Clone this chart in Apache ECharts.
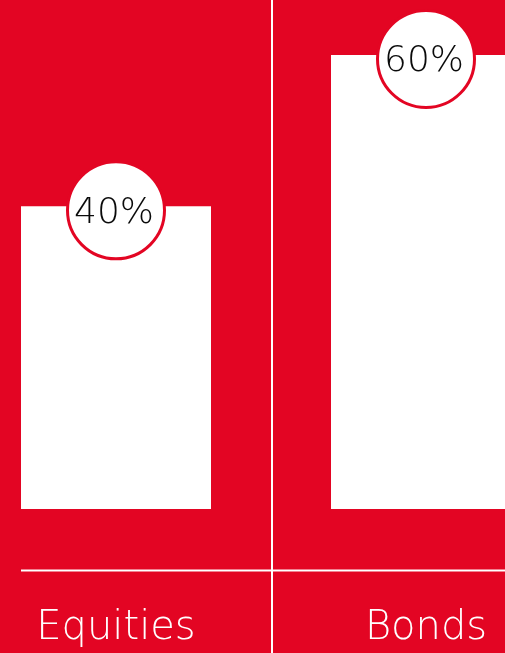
<!DOCTYPE html>
<html>
<head>
<meta charset="utf-8">
<script src="https://cdn.jsdelivr.net/npm/echarts@6/dist/echarts.min.js"></script>
<style>
  html, body { margin: 0; padding: 0; background: #E30523; }
  #chart { width: 505px; height: 653px; }
</style>
</head>
<body>
<div id="chart"></div>
<script>
// Asset allocation split
const categories = ['Equities', 'Bonds'];
const shares = [40, 60];

const RED = '#E30523';
const FONT = '"DejaVu Sans", sans-serif';
const chart = echarts.init(document.getElementById('chart'));

chart.setOption({
  backgroundColor: RED,
  animation: false,
  grid: { left: -39, right: -76, top: 55, bottom: 144, outerBoundsMode: 'none', containLabel: false },
  xAxis: {
    type: 'category',
    data: categories,
    axisLine: { show: false },
    axisTick: { show: false },
    splitLine: { show: false },
    axisLabel: {
      color: '#ffffff',
      fontSize: 40,
      fontFamily: FONT,
      fontWeight: 200,
      margin: 100
    }
  },
  yAxis: {
    type: 'value',
    min: 0,
    max: 60,
    show: false
  },
  series: [
    {
      type: 'bar',
      data: shares,
      barWidth: 190,
      itemStyle: { color: '#ffffff' },
      silent: true
    },
    {
      type: 'scatter',
      data: shares,
      clip: false,
      symbol: 'circle',
      symbolSize: 97,
      symbolOffset: [0, 4],
      itemStyle: { color: '#ffffff', borderColor: RED, borderWidth: 3, opacity: 1 },
      label: {
        show: true,
        position: 'inside',
        offset: [-2, 3],
        formatter: p => p.value + '%',
        color: '#0a0a0a',
        fontSize: 36,
        fontFamily: FONT,
        fontWeight: 200
      },
      z: 5
    }
  ]
});

// Divider lines: vertical between the two categories, horizontal baseline under the bars
const mid = (chart.convertToPixel({ xAxisIndex: 0 }, 0) + chart.convertToPixel({ xAxisIndex: 0 }, 1)) / 2;
const leftEdge = chart.convertToPixel({ xAxisIndex: 0 }, 0) - 95;
chart.setOption({
  graphic: [
    {
      type: 'line',
      shape: { x1: mid + 1, y1: 0, x2: mid + 1, y2: 653 },
      style: { stroke: '#ffffff', lineWidth: 2 },
      silent: true
    },
    {
      type: 'line',
      shape: { x1: leftEdge, y1: 570.5, x2: 505, y2: 570.5 },
      style: { stroke: '#ffffff', lineWidth: 2 },
      silent: true
    }
  ]
});
</script>
</body>
</html>
